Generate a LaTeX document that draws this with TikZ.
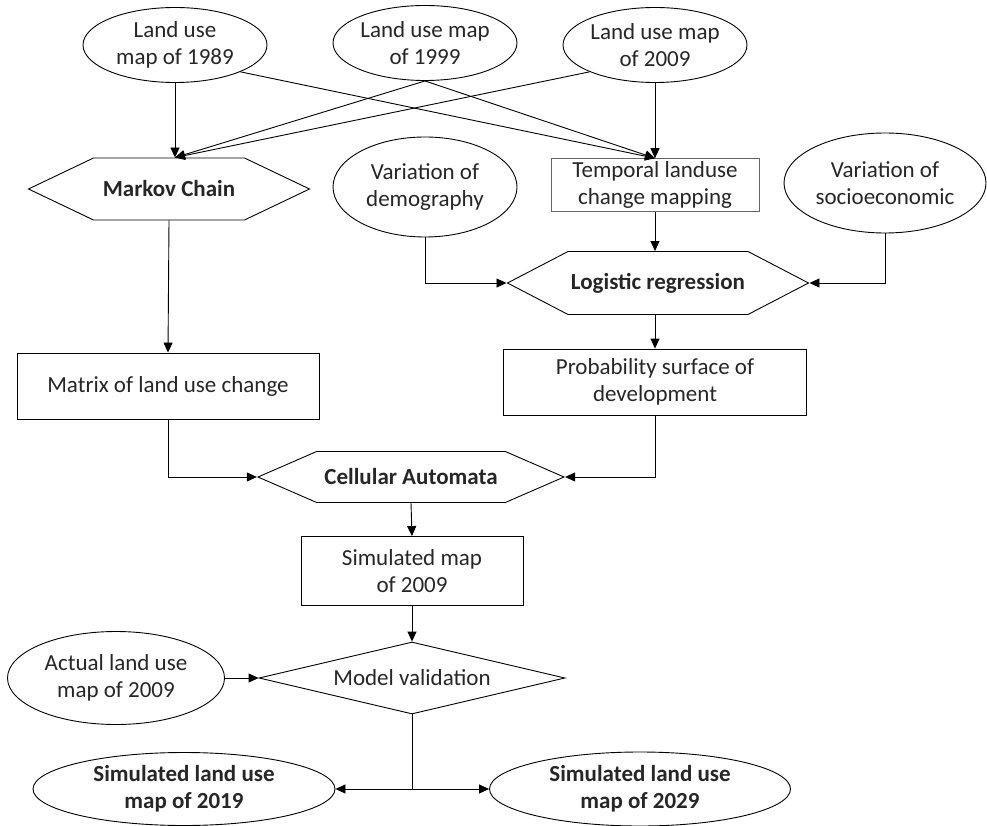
\documentclass[tikz,border=0pt]{standalone}
\usepackage{fontspec}
\setmainfont{Carlito}
\usetikzlibrary{arrows.meta,shapes.geometric,shapes.symbols}

\tikzset{
  mapnode/.style={draw, ellipse, inner sep=0pt, align=center},
  boxnode/.style={draw, rectangle, inner sep=0pt, align=center},
  hexnode/.style={draw, signal, signal to=west and east, inner sep=0pt,
    align=center, font=\fontsize{23}{27}\selectfont\bfseries},
  link/.style={->, line width=0.9pt}
}

\begin{document}
\begin{tikzpicture}[x=1pt, y=-1pt, line width=0.9pt, >={Triangle[length=10pt,width=9pt]},
    every node/.style={font=\fontsize{23}{27}\selectfont, text=black!85}]
    \useasboundingbox (0,0) rectangle (987,826);

    % input maps
    \node[mapnode, minimum width=184, minimum height=75] (m1989) at (175,45) {Land use\\map of 1989};
    \node[mapnode, minimum width=184, minimum height=75] (m1999) at (425,43) {Land use map\\of 1999};
    \node[mapnode, minimum width=184, minimum height=75] (m2009) at (655,45) {Land use map\\of 2009};

    \node[hexnode, minimum width=281, minimum height=62, signal pointer angle=51] (markov) at (169,189) {Markov Chain};
    \node[boxnode, draw=black!60, line width=0.6pt, minimum width=208, minimum height=53] (tlc) at (655,185) {Temporal landuse\\change mapping};
    \node[mapnode, minimum width=184, minimum height=100] (demog) at (425,187) {Variation of\\demography};
    \node[mapnode, minimum width=202, minimum height=100] (socio) at (885,183) {Variation of\\socioeconomic};

    \node[hexnode, minimum width=301, minimum height=63, signal pointer angle=55] (logit) at (658,283) {Logistic regression};

    \node[boxnode, minimum width=302, minimum height=66] (matrix) at (168,386) {Matrix of land use change};
    \node[boxnode, minimum width=303, minimum height=66] (prob) at (655,382) {Probability surface of\\development};

    \node[hexnode, minimum width=306, minimum height=51, signal pointer angle=47] (ca) at (411,477) {Cellular Automata};
    \node[boxnode, minimum width=222, minimum height=69] (simmap) at (412,571) {Simulated map\\of 2009};

    \node[draw, diamond, aspect=4.2, inner sep=0pt, minimum width=306, minimum height=72] (valid) at (412,678) {Model validation};
    \node[mapnode, minimum width=217, minimum height=93] (actual) at (116,678) {Actual land use\\map of 2009};

    \node[mapnode, minimum width=302, minimum height=73, font=\fontsize{23}{27}\selectfont\bfseries] (s2019) at (184,789) {Simulated land use\\map of 2019};
    \node[mapnode, minimum width=301, minimum height=74, font=\fontsize{23}{27}\selectfont\bfseries] (s2029) at (640,789) {Simulated land use\\map of 2029};
    \coordinate (split) at (412,789);

    % connectors
    \draw[link] (m1989.south) -- (m1989.south |- markov.north);
    \draw[link] (m1999.south) -- (m1989.south |- markov.north);
    \draw[link] (m2009.south west) -- (m1989.south |- markov.north);
    \draw[link] (m1989.south east) -- (tlc.north);
    \draw[link] (m1999.south) -- (tlc.north);
    \draw[link] (m2009.south) -- (tlc.north);

    \draw[link] (tlc.south) -- (tlc.south |- logit.north);
    \draw[link] (demog.south) |- (logit.west);
    \draw[link] (socio.south) |- (logit.east);
    \draw[link] (prob.north |- logit.south) -- (prob.north);

    \draw[link] (markov.south) -- (matrix.north);
    \draw[link] (matrix.south) |- (ca.west);
    \draw[link] (prob.south) |- (ca.east);
    \draw[link] (ca.south) -- (simmap.north);
    \draw[link] (simmap.south) -- (valid.north);
    \draw[link] (actual.east) -- (valid.west);

    \draw (valid.south) -- (split);
    \draw[link] (split) -- (s2019.east);
    \draw[link] (split) -- (s2029.west);
\end{tikzpicture}
\end{document}
